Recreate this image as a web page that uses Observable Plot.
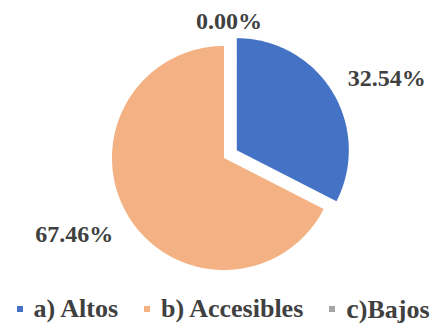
<!DOCTYPE html>
<html>
<head>
<meta charset="utf-8">
<script src="https://cdn.jsdelivr.net/npm/d3@7"></script>
<script src="https://cdn.jsdelivr.net/npm/@observablehq/plot@0.6"></script>
<style>
  html, body { margin: 0; padding: 0; background: #fff; }
  #wrap { width: 440px; height: 325px; overflow: hidden; }
  #legend { box-sizing: border-box; display: flex; justify-content: center; align-items: center;
    height: 33px; padding-left: 6px; line-height: 1;
    font-family: 'Liberation Serif'; font-weight: bold; font-size: 26px; color: #404040; }
  .item { display: flex; align-items: center; margin: 0 13px; white-space: nowrap; line-height: 1; }
  .sw { width: 6px; height: 6px; margin-right: 11px; }
</style>
</head>
<body>
<div id="wrap"></div>
<script>
const categories = ["a) Altos", "b) Accesibles", "c)Bajos"];
const values = [32.54, 67.46, 0.00];
const labels = ["32.54%", "67.46%", "0.00%"];
const colors = ["#4472C4", "#F4B183", "#A5A5A5"];
const explode = [0.134, 0, 0];

const W = 440, H = 292, R = 112, cx = 223.5, cy = 157.5;

const pie = d3.pie().sort(null).value(d => d.value).startAngle(0).endAngle(2 * Math.PI);
const data = categories.map((c, i) => ({category: c, value: values[i], label: labels[i], color: colors[i], explode: explode[i]}));
const arcs = pie(data);

const slices = arcs.map(a => {
  const mid = (a.startAngle + a.endAngle) / 2;
  const ox = a.data.explode * Math.sin(mid), oy = a.data.explode * Math.cos(mid);
  const pts = [{x: ox, y: oy}];
  const n = Math.max(2, Math.ceil((a.endAngle - a.startAngle) / 0.01));
  for (let k = 0; k <= n; k++) {
    const t = a.startAngle + (a.endAngle - a.startAngle) * k / n;
    pts.push({x: ox + Math.sin(t), y: oy + Math.cos(t)});
  }
  pts.push({x: ox, y: oy});
  return {arc: a, pts, mid, ox, oy};
});

const fx = 1.16, fy = 1.27;
const textData = slices.map(s => {
  const sx = Math.sin(s.mid);
  return {
    x: s.ox + fx * Math.sin(s.mid),
    y: s.oy + fy * Math.cos(s.mid),
    label: s.arc.data.label,
    anchor: Math.abs(sx) < 0.05 ? "middle" : (sx > 0 ? "start" : "end")
  };
});

const marks = slices.filter(s => s.arc.data.value > 0).map(s =>
  Plot.line(s.pts, {x: "x", y: "y", fill: s.arc.data.color, stroke: "none", curve: "linear"})
);
["start", "end", "middle"].forEach(anc => {
  marks.push(Plot.text(textData.filter(d => d.anchor === anc), {
    x: "x", y: "y", text: "label", textAnchor: anc,
    dx: anc === "middle" ? 5 : 0, dy: anc === "middle" ? 6 : 2,
    fontFamily: "Liberation Serif", fontWeight: "bold", fontSize: 24, fill: "#404040"
  }));
});

const chart = Plot.plot({
  width: W, height: H,
  margin: 0,
  style: {fontFamily: "Liberation Serif"},
  x: {domain: [-cx / R, (W - cx) / R], axis: null},
  y: {domain: [-(H - cy) / R, cy / R], axis: null},
  marks
});

const wrap = document.getElementById("wrap");
wrap.appendChild(chart);

const legend = document.createElement("div");
legend.id = "legend";
data.forEach((d, i) => {
  const it = document.createElement("div");
  it.className = "item";
  const sw = document.createElement("span");
  sw.className = "sw";
  sw.style.background = d.color;
  it.appendChild(sw);
  const tx = document.createElement("span");
  if (d.category.startsWith("c)")) {
    tx.innerHTML = '<span style="font-size:28px">c</span>)' + d.category.slice(2);
  } else {
    tx.textContent = d.category;
  }
  it.appendChild(tx);
  legend.appendChild(it);
});
wrap.appendChild(legend);
</script>
</body>
</html>
